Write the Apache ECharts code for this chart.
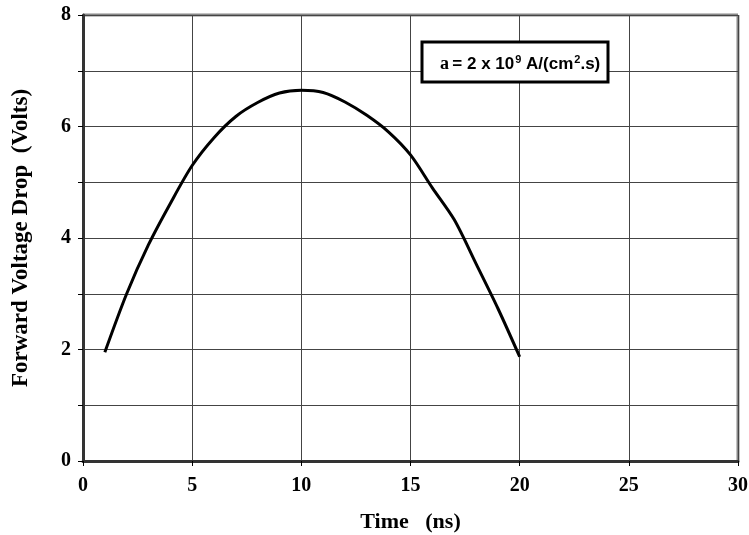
<!DOCTYPE html>
<html>
<head>
<meta charset="utf-8">
<script src="https://cdn.jsdelivr.net/npm/echarts@6/dist/echarts.min.js"></script>
<style>
html, body { margin: 0; padding: 0; background: #fff; }
#chart { width: 749px; height: 535px; }
</style>
</head>
<body>
<div id="chart"></div>
<script>
// time (ns) and forward voltage drop (V)
var timeNs = [1, 2, 3, 4, 5, 6, 7, 8, 9, 10, 11, 12, 13, 14, 15, 16, 17, 18, 19, 20];
var voltage = [1.95, 3.0, 3.88, 4.62, 5.3, 5.8, 6.18, 6.43, 6.6, 6.65, 6.61, 6.44, 6.2, 5.9, 5.49, 4.9, 4.33, 3.54, 2.74, 1.87];
var yLabels = ['0', '2', '4', '6', '8'];

var chart = echarts.init(document.getElementById('chart'));
var serifBold = { fontFamily: 'Liberation Serif', fontWeight: 'bold', color: '#000' };

var option = {
	animation: false,
	grid: { left: 83, right: 11, top: 15, bottom: 74, outerBoundsMode: 'none', containLabel: false },
	xAxis: {
		type: 'value',
		min: 0, max: 30, interval: 5,
		name: 'Time   (ns)',
		nameLocation: 'middle',
		nameGap: 50,
		nameTextStyle: Object.assign({ fontSize: 22 }, serifBold),
		axisLine: { lineStyle: { color: '#333', width: 3 } },
		axisTick: { show: true, length: 5, lineStyle: { color: '#000', width: 1 } },
		axisLabel: Object.assign({ fontSize: 20, margin: 15 }, serifBold),
		splitLine: { show: true, lineStyle: { color: '#444', width: 1 } }
	},
	yAxis: {
		type: 'value',
		min: 0, max: 8, interval: 1,
		name: 'Forward Voltage Drop  (Volts)',
		nameLocation: 'middle',
		nameGap: 50,
		nameTextStyle: Object.assign({ fontSize: 23 }, serifBold),
		axisLine: { show: true, lineStyle: { color: '#333', width: 3 } },
		axisTick: { show: true, length: 5, lineStyle: { color: '#000', width: 1 } },
		axisLabel: Object.assign({
			fontSize: 20, margin: 12,
			formatter: function (v) { return v % 2 === 0 ? yLabels[v / 2] : ''; }
		}, serifBold),
		splitLine: { show: true, lineStyle: { color: '#444', width: 1 } }
	},
	graphic: [
		// gray frame on the top and right of the plot
		{ type: 'line', shape: { x1: 83, y1: 15, x2: 738, y2: 15 }, style: { stroke: '#888', lineWidth: 3 } },
		{ type: 'line', shape: { x1: 738, y1: 15, x2: 738, y2: 461 }, style: { stroke: '#888', lineWidth: 3 } },
		{
			type: 'rect', z: 10,
			shape: { x: 422, y: 42, width: 186, height: 40 },
			style: { fill: '#fff', stroke: '#000', lineWidth: 3 }
		},
		{
			type: 'text', z: 11,
			left: 440, top: 51,
			style: {
				text: '{a|a} {s|= 2 x 10}{p|9}{s| A/(cm}{p|2}{s|.s)}',
				rich: {
					a: { fontFamily: 'Liberation Serif', fontWeight: 'bold', fontSize: 18, fill: '#000', lineHeight: 22, verticalAlign: 'bottom' },
					s: { fontFamily: 'Liberation Sans', fontWeight: 'bold', fontSize: 17, fill: '#000', lineHeight: 22, verticalAlign: 'bottom' },
					p: { fontFamily: 'Liberation Sans', fontWeight: 'bold', fontSize: 11, fill: '#000', lineHeight: 22, verticalAlign: 'top', padding: [3, 0, 0, 1] }
				}
			}
		}
	],
	series: [{
		type: 'line',
		data: timeNs.map(function (t, i) { return [t, voltage[i]]; }),
		smooth: 0.3,
		showSymbol: false,
		lineStyle: { color: '#000', width: 3 }
	}]
};
chart.setOption(option);
</script>
</body>
</html>
